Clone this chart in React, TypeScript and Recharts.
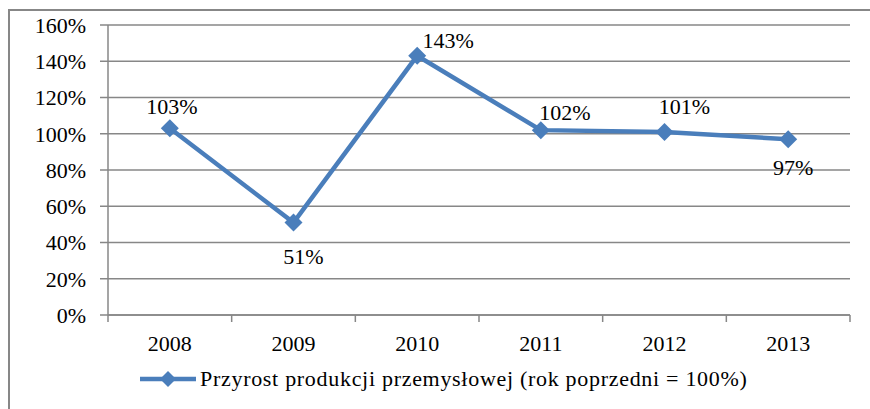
import { LineChart, Line, XAxis, YAxis, CartesianGrid, LabelList } from "recharts";

const YEARS = ["2008", "2009", "2010", "2011", "2012", "2013"];
const GROWTH = [103, 51, 143, 102, 101, 97];
const Y_TICKS = [0, 20, 40, 60, 80, 100, 120, 140, 160];
const SERIES_NAME = "Przyrost produkcji przemysłowej (rok poprzedni = 100%)";

const data = YEARS.map((year, i) => ({ year, value: GROWTH[i] }));

const W = 870;
const H = 409;
const MARGIN = { top: 25, right: 20, left: 0, bottom: 64 };
const Y_AXIS_W = 108;
const X_AXIS_H = 30;
const PLOT_W = W - MARGIN.left - Y_AXIS_W - MARGIN.right;
const BAND = PLOT_W / YEARS.length;

const BLUE = "#4a7ebb";
const GRID = "#878787";
const FONT = "Liberation Serif, Tinos, Times New Roman, DejaVu Serif, serif";

// label nudges (dx, dy) relative to each point, as placed in the original
const LABEL_SHIFT = [
    [2, -22],
    [10, 34],
    [31, -15],
    [24, -18],
    [20, -25],
    [5, 28],
];

const Diamond = ({ cx, cy, size = 9 }: any) => {
    if (cx == null || cy == null) return null;
    return (
        <polygon
            points={`${cx},${cy - size} ${cx + size},${cy} ${cx},${cy + size} ${cx - size},${cy}`}
            fill={BLUE}
        />
    );
};

const XTick = ({ x, y, payload, index }: any) => {
    const last = index === YEARS.length - 1;
    return (
        <g>
            <line x1={x - BAND / 2} x2={x - BAND / 2} y1={y} y2={y + 7} stroke={GRID} strokeWidth={1.5} />
            {last && (
                <line x1={x + BAND / 2} x2={x + BAND / 2} y1={y} y2={y + 7} stroke={GRID} strokeWidth={1.5} />
            )}
            <text
                x={x}
                y={y + 28}
                textAnchor="middle"
                dominantBaseline="central"
                fontSize={22}
                fontFamily={FONT}
                fill="#000"
            >
                {payload.value}
            </text>
        </g>
    );
};

const ValueLabel = ({ x, y, value, index }: any) => {
    const [dx, dy] = LABEL_SHIFT[index] || [0, -20];
    return (
        <text
            x={x + dx}
            y={y + dy}
            textAnchor="middle"
            dominantBaseline="central"
            fontSize={22}
            fontFamily={FONT}
            fill="#000"
        >
            {value}%
        </text>
    );
};

export default function App() {
    return (
        <div
            style={{
                position: "absolute",
                left: 0,
                top: 0,
                width: W,
                height: H,
                overflow: "hidden",
                background: "#fff",
                fontFamily: FONT,
            }}
        >
            <div
                style={{
                    position: "absolute",
                    left: 8,
                    top: 9,
                    width: 900,
                    height: 500,
                    border: `2px solid ${GRID}`,
                }}
            />
            <div style={{ position: "absolute", left: 0, top: 0 }}>
                <LineChart width={W} height={H} data={data} margin={MARGIN} style={{ fontFamily: FONT }}>
                    <CartesianGrid vertical={false} stroke={GRID} strokeWidth={1.5} />
                    <XAxis
                        dataKey="year"
                        height={X_AXIS_H}
                        padding={{ left: BAND / 2, right: BAND / 2 }}
                        axisLine={{ stroke: GRID, strokeWidth: 1.5 }}
                        tickLine={false}
                        tickSize={0}
                        tickMargin={0}
                        interval={0}
                        tick={<XTick />}
                    />
                    <YAxis
                        width={Y_AXIS_W}
                        domain={[0, 160]}
                        ticks={Y_TICKS}
                        interval={0}
                        tickFormatter={(v: number) => `${v}%`}
                        axisLine={{ stroke: GRID, strokeWidth: 1.5 }}
                        tickLine={{ stroke: GRID, strokeWidth: 1.5 }}
                        tickSize={8}
                        tickMargin={14}
                        tick={{ fontSize: 22, fill: "#000", fontFamily: FONT }}
                    />
                    <Line
                        dataKey="value"
                        stroke={BLUE}
                        strokeWidth={4.5}
                        dot={<Diamond />}
                        activeDot={false}
                        isAnimationActive={false}
                    >
                        <LabelList dataKey="value" content={<ValueLabel />} />
                    </Line>
                </LineChart>
            </div>
            <div
                style={{
                    position: "absolute",
                    left: 140,
                    top: 366,
                    display: "flex",
                    alignItems: "center",
                    height: 26,
                }}
            >
                <svg width={56} height={20}>
                    <line x1={0} x2={56} y1={10} y2={10} stroke={BLUE} strokeWidth={4.5} />
                    <Diamond cx={28} cy={10} size={8} />
                </svg>
                <span
                    style={{
                        fontSize: 22,
                        marginLeft: 4,
                        color: "#000",
                        whiteSpace: "nowrap",
                        letterSpacing: 0.7,
                    }}
                >
                    {SERIES_NAME}
                </span>
            </div>
        </div>
    );
}
